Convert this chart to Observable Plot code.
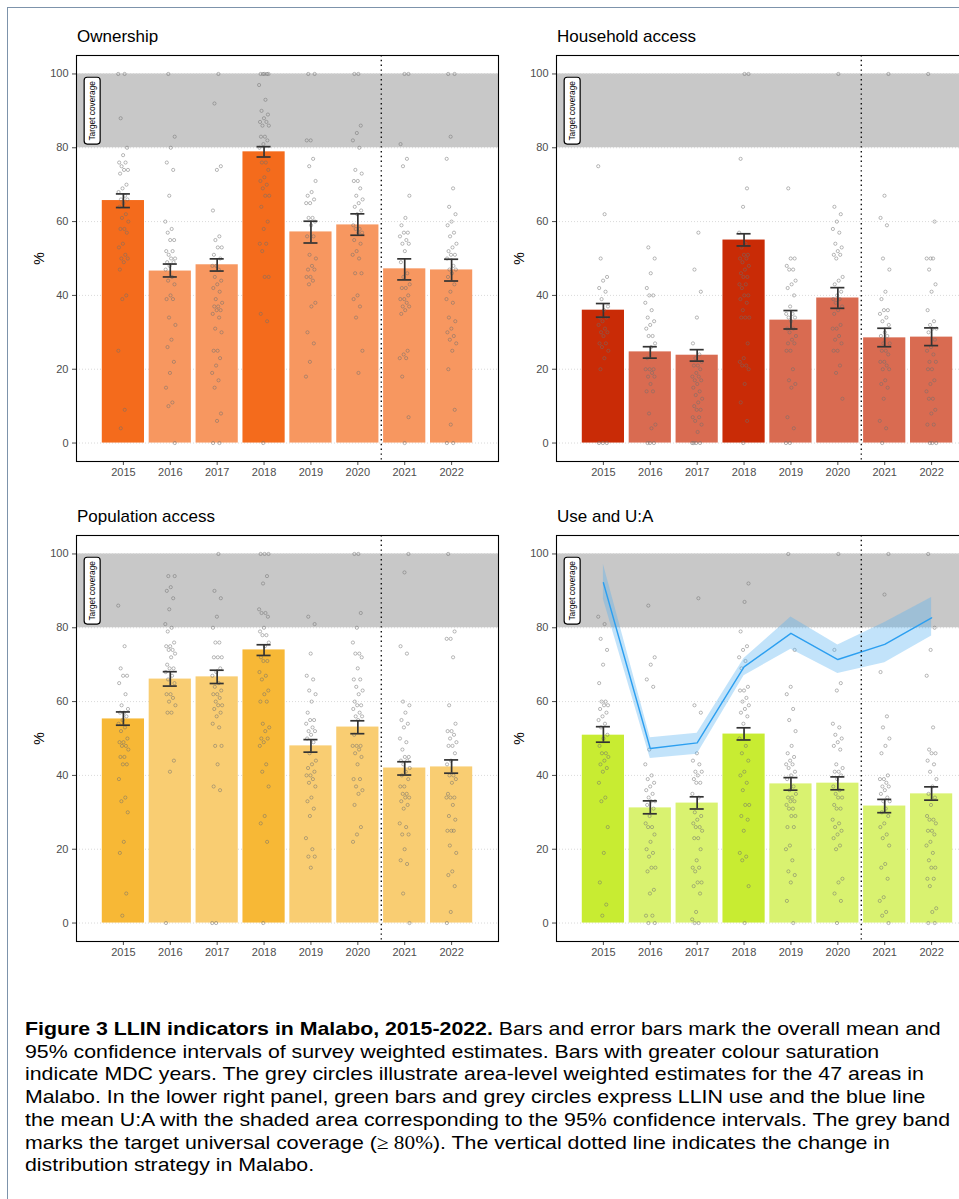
<!DOCTYPE html>
<html>
<head>
<meta charset="utf-8">
<script src="https://cdn.jsdelivr.net/npm/d3@7"></script>
<script src="https://cdn.jsdelivr.net/npm/@observablehq/plot@0.6"></script>
<style>
  html, body { margin: 0; padding: 0; background: #fff; width: 959px; height: 1199px; overflow: hidden; }
  body { position: relative; font-family: "Liberation Sans", Arial, sans-serif; }
  #frame { position: absolute; left: 7px; top: 7px; width: 1100px; height: 1400px; border-left: 1px solid #7d93ab; border-top: 1px solid #7d93ab; }
  .panel { position: absolute; width: 500px; height: 470px; }
  .panel svg { max-width: none !important; width: 500px; height: 470px; }
  .ptitle { position: absolute; font-size: 17px; color: #000; white-space: nowrap; }
  #caption { position: absolute; left: 25px; top: 1018px; font-size: 19px; line-height: 22.7px; color: #000; }
  #caption div { white-space: nowrap; transform-origin: 0 0; }
  .m { font-family: "Liberation Serif", "DejaVu Serif", serif; }
</style>
</head>
<body>
<div id="frame"></div>
<div id="caption">
  <div><b>Figure 3 LLIN indicators in Malabo, 2015-2022.</b> Bars and error bars mark the overall mean and</div>
  <div>95% confidence intervals of survey weighted estimates. Bars with greater colour saturation</div>
  <div>indicate MDC years. The grey circles illustrate area-level weighted estimates for the 47 areas in</div>
  <div>Malabo. In the lower right panel, green bars and grey circles express LLIN use and the blue line</div>
  <div>the mean U:A with the shaded area corresponding to the 95% confidence intervals. The grey band</div>
  <div>marks the target universal coverage (<span class="m">≥ 80%</span>). The vertical dotted line indicates the change in</div>
  <div>distribution strategy in Malabo.</div>
</div>
<script>
// ---------------- data ----------------
const years = [2015, 2016, 2017, 2018, 2019, 2020, 2021, 2022];
const mdcYears = [2015, 2018];
const strategyChange = 2020.5;
const targetLow = 80, targetHigh = 100;
const yTicks = [0, 20, 40, 60, 80, 100];
const panelTitles = ["Ownership", "Household access", "Population access", "Use and U:A"];

const ownershipMean = [65.7, 46.6, 48.3, 78.9, 57.2, 59.1, 47.2, 46.9];
const ownershipLow  = [63.8, 45.0, 46.6, 77.5, 54.2, 56.3, 44.2, 43.9];
const ownershipHigh = [67.5, 48.5, 49.9, 80.3, 60.1, 62.1, 49.9, 49.8];

const householdMean = [36.0, 24.7, 23.8, 55.0, 33.3, 39.3, 28.5, 28.7];
const householdLow  = [34.1, 23.0, 22.2, 53.4, 30.9, 36.5, 26.1, 26.4];
const householdHigh = [37.8, 26.1, 25.3, 56.7, 35.9, 42.1, 31.1, 31.2];

const populationMean = [55.3, 66.1, 66.7, 74.0, 48.0, 53.1, 42.0, 42.3];
const populationLow  = [53.6, 64.2, 64.9, 72.5, 46.3, 51.3, 40.1, 40.6];
const populationHigh = [57.2, 68.1, 68.5, 75.4, 49.7, 54.8, 43.7, 44.2];

const useMean = [50.9, 31.2, 32.5, 51.2, 37.7, 37.9, 31.7, 35.0];
const useLow  = [49.0, 29.6, 30.9, 49.6, 36.0, 36.1, 29.9, 33.3];
const useHigh = [53.2, 33.1, 34.2, 52.9, 39.4, 39.6, 33.5, 36.9];

const uaMean = [92.2, 47.3, 48.8, 69.4, 78.5, 71.4, 75.5, 82.7];
const uaLow  = [87.7, 44.6, 45.7, 67.0, 74.2, 67.6, 70.5, 77.8];
const uaHigh = [97.2, 50.2, 51.4, 71.7, 82.9, 75.3, 81.4, 88.2];

// area-level estimates (grey circles), one list per year
const ownershipAreas = [
  [100,100,88,80,78,76,76,75,74,74,73,70,69,68,67,66,66,65,64,62,61,60,58,58,57,54,53,51,50,50,49,47,40,39,25,9,4],
  [100,83,80,76,74,67,60,58,57,55,55,52,52,51,50,50,49,49,48,47,45,44,43,40,39,39,34,32,28,26,22,19,15,11,10,0],
  [100,92,75,74,63,56,55,53,53,51,50,48,48,47,45,44,43,42,41,39,38,37,37,36,36,35,34,31,30,25,25,23,21,19,17,15,8,6,0,0],
  [100,100,100,100,100,97,93,90,89,88,87,87,86,86,83,83,82,81,80,76,76,74,72,71,70,69,67,67,64,60,58,54,54,52,45,45,35,33,0],
  [100,100,82,82,77,75,71,68,67,66,65,65,61,61,60,59,56,56,51,50,48,47,47,45,45,44,43,38,37,30,27,22,18],
  [100,100,86,84,82,80,74,73,71,71,69,67,66,65,64,63,62,59,58,58,57,57,55,54,52,51,50,46,46,40,39,37,34,25,19],
  [100,100,81,77,75,67,61,59,57,57,56,55,54,54,52,49,46,45,43,42,42,40,39,39,38,37,37,36,35,25,24,23,23,18,7,0],
  [100,100,83,77,69,64,62,60,59,57,56,54,53,52,51,51,50,48,47,47,46,45,43,41,39,38,34,33,31,30,29,28,27,25,20,9,5,0,0]
];
const householdAreas = [
  [75,62,50,45,44,42,41,39,37,36,34,34,33,32,31,30,30,29,27,27,26,25,23,20,0,0,0],
  [53,50,46,42,40,40,38,36,34,33,32,31,29,29,27,26,23,20,20,20,19,18,18,16,14,14,8,5,4,0,0,0],
  [57,47,41,34,27,24,23,22,21,21,20,19,18,18,17,17,16,15,14,13,12,11,10,9,9,7,7,6,5,3,0,0,0,0],
  [100,100,77,69,64,57,54,53,51,51,50,50,49,48,47,46,45,45,43,43,42,40,40,39,38,36,34,34,34,27,23,22,21,21,20,16,11,6,0],
  [69,50,50,48,47,47,44,43,42,40,37,35,35,34,34,33,31,31,30,29,28,27,27,25,25,20,17,16,15,7,4,0,0],
  [100,64,62,60,58,57,54,53,52,51,51,50,45,44,43,41,40,39,39,38,37,36,35,32,31,31,29,28,27,25,25,21,19,12],
  [100,67,61,59,50,47,41,39,36,36,35,34,33,32,30,29,29,27,27,25,25,24,22,22,21,20,20,17,16,15,12,6,4,0],
  [100,60,50,50,50,47,43,41,36,33,32,31,31,30,28,26,25,24,22,22,20,20,17,16,14,12,12,9,8,5,5,0,0,0]
];
const populationAreas = [
  [86,75,69,67,67,65,62,59,58,57,57,56,55,54,53,52,50,49,49,48,48,47,45,45,43,43,39,34,33,30,22,19,8,2],
  [94,94,91,90,88,85,81,80,79,76,75,75,74,74,73,72,70,69,69,68,67,66,65,62,62,61,60,59,57,57,44,41,0],
  [100,90,88,83,80,76,76,72,72,72,69,68,67,65,64,63,62,62,61,60,59,59,58,57,56,54,53,48,48,43,37,36,0,0],
  [100,100,100,94,92,85,84,84,83,80,79,78,78,76,75,72,71,71,68,67,66,63,62,60,60,54,53,52,50,50,49,48,43,41,37,29,27,22,0],
  [83,81,73,67,66,63,62,60,57,55,55,54,53,52,52,51,50,49,46,44,43,42,41,40,40,39,38,37,34,33,31,29,23,20,18,18,15],
  [100,100,84,80,76,73,73,72,69,66,66,64,63,62,60,59,59,58,57,56,56,55,51,48,48,48,47,46,45,43,39,39,37,36,35,32,26,24,22],
  [100,95,75,73,60,59,57,55,54,53,50,49,47,45,45,44,44,43,42,41,40,39,37,37,35,35,34,34,33,32,31,27,26,24,24,20,17,16,8,0],
  [100,79,77,77,72,59,54,52,52,51,50,49,48,48,46,44,43,40,40,39,38,35,34,34,34,32,29,28,25,25,25,21,19,14,13,10,3,0]
];
const useAreas = [
  [83,81,77,74,70,65,60,60,59,59,58,57,56,55,54,53,51,50,48,46,46,45,44,43,42,41,38,34,33,26,19,11,5,2],
  [86,72,70,66,64,47,43,40,39,38,37,36,35,34,33,33,32,31,29,27,26,26,24,22,20,19,18,15,15,14,9,8,2,2,0,0],
  [88,59,57,46,44,43,41,41,40,39,38,38,35,34,30,29,28,27,26,26,25,23,23,20,17,15,15,14,11,11,10,8,3,1,0,0],
  [92,87,79,75,74,72,71,69,64,63,63,61,60,59,58,57,56,54,50,48,46,44,41,40,38,36,32,32,29,28,25,19,18,17,10,0],
  [100,74,64,62,58,55,52,48,46,45,44,43,43,42,41,40,39,37,36,35,34,34,33,33,32,31,31,29,29,26,26,21,20,17,14,13,11,6,0],
  [100,74,65,63,54,53,51,50,49,48,47,43,42,41,41,40,39,37,36,35,34,34,32,31,31,28,27,26,25,24,23,21,20,12,11,8,6,0],
  [100,89,68,56,53,50,48,46,40,39,39,38,37,37,36,35,34,33,33,31,30,29,27,26,24,23,21,16,15,12,7,6,3,2,0],
  [100,80,74,67,53,47,46,46,44,43,41,39,37,35,34,32,29,28,28,27,25,25,24,22,21,19,17,15,15,12,12,10,4,3,0,0]
];

const panelColors = ["#f46b1c", "#c92b06", "#f7b836", "#c8ec32"];

// ---------------- build ----------------
const xDomain = [years[0] - 1, years[years.length - 1] + 1];

function tableOf(means, lows, highs) {
  return years.map((year, i) => ({year, mean: means[i], low: lows[i], high: highs[i], mdc: mdcYears.includes(year)}));
}
function pointsOf(areas) {
  const out = [];
  areas.forEach((vals, i) => vals.forEach((v, j) => {
    const jit = (((j * 0.6180339887 + i * 0.31) % 1) - 0.5) * 0.22; // horizontal jitter (layout only)
    out.push({year: years[i], value: v, jit});
  }));
  return out;
}

function makePanel(k, means, lows, highs, areas, ua) {
  const color = panelColors[k];
  const light = d3.interpolateRgb("#ffffff", color)(0.7);
  const bars = tableOf(means, lows, highs);
  const pts = pointsOf(areas);
  const marks = [
    Plot.ruleY(yTicks, {stroke: "#d0d0d0", strokeWidth: 0.8, strokeDasharray: "1,2"}),
    Plot.rect([{lo: targetLow, hi: targetHigh}], {x1: () => xDomain[0], x2: () => xDomain[1], y1: "lo", y2: "hi", fill: "#c8c8c8"}),
    Plot.ruleY([targetHigh], {stroke: "#d6d6d6", strokeWidth: 0.8, strokeDasharray: "1,2"}),
    Plot.rect(bars, {x1: d => d.year - 0.45, x2: d => d.year + 0.45, y1: 0, y2: "mean", fill: d => d.mdc ? color : light}),
    Plot.dot(pts, {x: d => d.year + d.jit, y: "value", r: 1.6, fill: "none", stroke: "#6e6e6e", strokeOpacity: 0.75, strokeWidth: 0.65}),
    Plot.ruleX(bars, {x: "year", y1: "low", y2: "high", stroke: "#333", strokeWidth: 1.7}),
    Plot.ruleY(bars, {y: "low", x1: d => d.year - 0.15, x2: d => d.year + 0.15, stroke: "#333", strokeWidth: 1.7}),
    Plot.ruleY(bars, {y: "high", x1: d => d.year - 0.15, x2: d => d.year + 0.15, stroke: "#333", strokeWidth: 1.7})
  ];
  if (ua) {
    marks.push(Plot.areaY(ua, {x: "year", y1: "low", y2: "high", fill: "#4fb0f2", fillOpacity: 0.35}));
    marks.push(Plot.line(ua, {x: "year", y: "mean", stroke: "#2c9ff0", strokeWidth: 1.4}));
  }
  marks.push(Plot.ruleX([strategyChange], {stroke: "#000", strokeWidth: 1.3, strokeDasharray: "1.4,3.4"}));
  marks.push(Plot.text([{t: "Target coverage"}], {frameAnchor: "left", dx: 16, y: () => (targetLow + targetHigh) / 2, text: "t", rotate: -90, textAnchor: "middle", fontSize: 8.3, fill: "#000"}));
  marks.push(Plot.frame({stroke: "#000", strokeWidth: 1.1}));

  return Plot.plot({
    width: 500, height: 470,
    marginLeft: 76, marginRight: 2, marginTop: 35, marginBottom: 29,
    style: {fontFamily: "'Liberation Sans', Arial, sans-serif", fontSize: "11px", color: "#4d4d4d", background: "transparent", overflow: "visible"},
    x: {domain: xDomain, ticks: years, tickFormat: d => String(d), tickSize: 4, tickPadding: 3, label: null},
    y: {domain: [-5, 105], ticks: yTicks, tickSize: 4, tickPadding: 4, label: "%", labelAnchor: "center", labelOffset: 42, labelArrow: "none"},
    marks
  });
}

const ua = tableOf(uaMean, uaLow, uaHigh);
const panels = [
  {k: 0, left: 0,   top: 20,  tl: 77,  tt: 27,  args: [ownershipMean, ownershipLow, ownershipHigh, ownershipAreas, null]},
  {k: 1, left: 480, top: 20,  tl: 557, tt: 27,  args: [householdMean, householdLow, householdHigh, householdAreas, null]},
  {k: 2, left: 0,   top: 500, tl: 77,  tt: 507, args: [populationMean, populationLow, populationHigh, populationAreas, null]},
  {k: 3, left: 480, top: 500, tl: 557, tt: 507, args: [useMean, useLow, useHigh, useAreas, ua]}
];

for (const p of panels) {
  const t = document.createElement("div");
  t.className = "ptitle";
  t.style.left = p.tl + "px"; t.style.top = p.tt + "px";
  t.textContent = panelTitles[p.k];
  document.body.appendChild(t);

  const wrap = document.createElement("div");
  wrap.className = "panel";
  wrap.style.left = p.left + "px"; wrap.style.top = p.top + "px";
  document.body.appendChild(wrap);
  const svg = makePanel(p.k, ...p.args);
  wrap.appendChild(svg);

  // axis title styling (strip any arrow)
  d3.select(svg).selectAll("text").filter(function() { return this.textContent.trim().startsWith("%"); })
    .each(function() {
      const tspan = this.querySelector("tspan");
      if (tspan) tspan.textContent = "%"; else this.textContent = "%";
    })
    .attr("fill", "#000").style("font-size", "14px");

  // rounded box behind "Target coverage"
  d3.select(svg).selectAll("text").filter(function() { return this.textContent === "Target coverage"; })
    .each(function() {
      const bb = this.getBBox();
      const pad = 3.5;
      const rect = document.createElementNS("http://www.w3.org/2000/svg", "rect");
      rect.setAttribute("x", bb.x - pad);
      rect.setAttribute("y", bb.y - pad + 0.5);
      rect.setAttribute("width", bb.width + 2 * pad);
      rect.setAttribute("height", bb.height + 2 * pad - 1);
      rect.setAttribute("rx", 3);
      rect.setAttribute("fill", "#fff");
      rect.setAttribute("stroke", "#000");
      rect.setAttribute("stroke-width", 1.2);
      const tr = this.getAttribute("transform");
      if (tr) rect.setAttribute("transform", tr);
      this.parentNode.insertBefore(rect, this);
    });
}

// fit caption width to the figure's text block
const capLines = document.querySelectorAll("#caption div");
const w0 = capLines[0].getBoundingClientRect().width;
const sx = 925 / w0;
capLines.forEach(el => { el.style.transform = `scaleX(${sx})`; });
</script>
</body>
</html>
